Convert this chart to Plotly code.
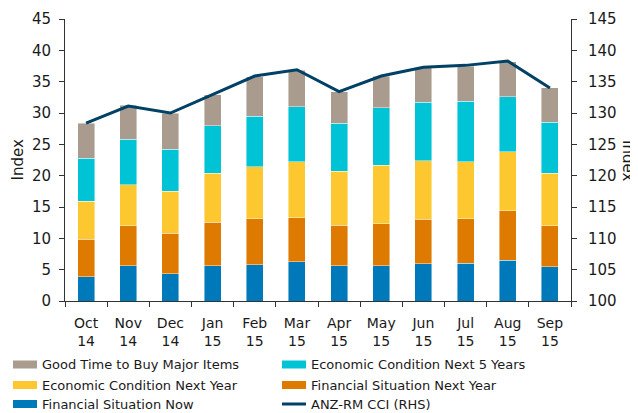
import plotly.graph_objects as go

months = ["Oct<br>14", "Nov<br>14", "Dec<br>14", "Jan<br>15", "Feb<br>15", "Mar<br>15",
          "Apr<br>15", "May<br>15", "Jun<br>15", "Jul<br>15", "Aug<br>15", "Sep<br>15"]

fin_now = [3.9, 5.65, 4.35, 5.6, 5.8, 6.3, 5.65, 5.65, 5.95, 6.05, 6.5, 5.45]
fin_next_year = [5.95, 6.35, 6.5, 7.0, 7.3, 7.0, 6.45, 6.65, 7.1, 7.1, 7.9, 6.55]
econ_next_year = [6.1, 6.55, 6.65, 7.8, 8.35, 8.9, 8.6, 9.4, 9.3, 9.1, 9.4, 8.4]
econ_next_5y = [6.85, 7.3, 6.7, 7.55, 8.05, 8.8, 7.7, 9.1, 9.35, 9.65, 8.8, 8.1]
good_time_buy = [5.6, 5.35, 5.8, 4.95, 6.3, 5.85, 5.0, 5.1, 5.5, 5.6, 5.6, 5.5]
cci = [128.4, 131.1, 130.0, 132.9, 135.9, 136.9, 133.4, 135.9, 137.3, 137.6, 138.3, 134.0]

bar_names = ["Financial Situation Now", "Financial Situation Next Year",
             "Economic Condition Next Year", "Economic Condition Next 5 Years",
             "Good Time to Buy Major Items"]
bar_values = [fin_now, fin_next_year, econ_next_year, econ_next_5y, good_time_buy]
bar_colors = ["#0079BA", "#DF7A00", "#FDC82F", "#00C4D6", "#A99B8D"]
line_name = "ANZ-RM CCI (RHS)"
line_color = "#004165"

FONT = "DejaVu Sans, Verdana, sans-serif"
TXT = "#1a1a1a"

# The page body has an 8px default margin; the figure is sized so the
# visible window (638x413) matches the reference.
OFF = 8
W, H = 638 - OFF, 413 - OFF
ML, MR, MT, MB = 65 - OFF, 67, 19 - OFF, 112
PW, PH = W - ML - MR, H - MT - MB


def px_x(px):
    # screen pixel x -> paper x
    return (px - OFF - ML) / PW


def px_y(py):
    # screen pixel y -> paper y
    return (H - MB - (py - OFF)) / PH


fig = go.Figure()
for name, vals, color in zip(bar_names, bar_values, bar_colors):
    fig.add_trace(go.Bar(
        x=months, y=vals, name=name, showlegend=False,
        marker=dict(color=color, line=dict(color="rgba(255,255,255,0.55)", width=0.8)),
        yaxis="y",
    ))

fig.add_trace(go.Scatter(
    x=months, y=cci, mode="lines", name=line_name, showlegend=False,
    line=dict(color=line_color, width=3), yaxis="y2",
))

axis_common = dict(
    showgrid=False, zeroline=False, showline=True, linecolor="#333333", linewidth=1,
    ticks="outside", ticklen=5, tickcolor="#333333",
    tickfont=dict(family=FONT, size=15, color=TXT),
)

# custom two-column legend (row-wise order as in the reference)
legend_entries = [
    ("Good Time to Buy Major Items", "#A99B8D", "bar"),
    ("Economic Condition Next 5 Years", "#00C4D6", "bar"),
    ("Economic Condition Next Year", "#FDC82F", "bar"),
    ("Financial Situation Next Year", "#DF7A00", "bar"),
    ("Financial Situation Now", "#0079BA", "bar"),
    (line_name, line_color, "line"),
]
col_sw_x = [13, 282]
col_txt_x = [40, 309]
row_y = [364.5, 385, 404]
shapes = []
annotations = []
for i, (name, color, kind) in enumerate(legend_entries):
    r, c = divmod(i, 2)
    cy = row_y[r]
    if kind == "bar":
        shapes.append(dict(type="rect", xref="paper", yref="paper",
                           x0=px_x(col_sw_x[c]), x1=px_x(col_sw_x[c] + 24),
                           y0=px_y(cy + 4), y1=px_y(cy - 4),
                           fillcolor=color, line=dict(width=0)))
    else:
        shapes.append(dict(type="line", xref="paper", yref="paper",
                           x0=px_x(col_sw_x[c]), x1=px_x(col_sw_x[c] + 24),
                           y0=px_y(cy), y1=px_y(cy),
                           line=dict(color=color, width=3)))
    annotations.append(dict(text=name, xref="paper", yref="paper",
                            x=px_x(col_txt_x[c]), y=px_y(cy),
                            xanchor="left", yanchor="middle", showarrow=False,
                            font=dict(family=FONT, size=13, color=TXT)))

annotations += [
    dict(text="Index", xref="paper", yref="paper", x=px_x(17.5), y=px_y(160),
         xanchor="center", yanchor="middle", textangle=-90, showarrow=False,
         font=dict(family=FONT, size=15, color=TXT)),
    dict(text="Index", xref="paper", yref="paper", x=px_x(628), y=px_y(160),
         xanchor="center", yanchor="middle", textangle=90, showarrow=False,
         font=dict(family=FONT, size=15, color=TXT)),
]

fig.update_layout(
    width=W, height=H,
    margin=dict(l=ML, r=MR, t=MT, b=MB, autoexpand=False),
    paper_bgcolor="white", plot_bgcolor="white",
    barmode="stack", bargap=0.6, showlegend=False,
    font=dict(family=FONT, size=14, color=TXT),
    xaxis=dict(**{**axis_common, "tickfont": dict(family=FONT, size=14, color=TXT)},
               type="category", tickson="boundaries", ticklabelstandoff=9),
    yaxis=dict(**axis_common, range=[0, 45], dtick=5, ticklabelstandoff=5),
    yaxis2=dict(**axis_common, range=[100, 145], dtick=5, overlaying="y", side="right",
                ticklabelstandoff=8),
    shapes=shapes,
    annotations=annotations,
)

fig.write_html("out.html")
